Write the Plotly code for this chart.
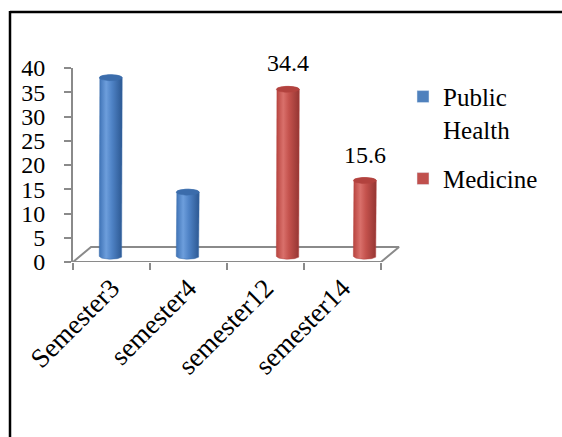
import numpy as np
import plotly.graph_objects as go

# ---- data ----
categories = ["Semester3", "semester4", "semester12", "semester14"]
series_names = ["Public Health", "Medicine"]
public_health = [36.8, 13.2, None, None]
medicine = [None, None, 34.4, 15.6]
value_labels = [None, None, "34.4", "15.6"]
y_ticks = [0, 5, 10, 15, 20, 25, 30, 35, 40]

# ---- styling / geometry ----
FONT = "Liberation Serif, Times New Roman, serif"
AXIS_GREY = "#8a8a8a"
series_styles = {
    "Public Health": dict(
        scale=[[0, "#3f73b6"], [0.3, "#6d9edc"], [0.55, "#4f83c6"], [1, "#2c5892"]],
        cap="#3b6cab", swatch="#4f81bd"),
    "Medicine": dict(
        scale=[[0, "#b8443f"], [0.3, "#d9706b"], [0.55, "#c4524d"], [1, "#943532"]],
        cap="#b2423e", swatch="#c0504d"),
}
group_offset = 0.15      # half spacing between the two series slots in a category
depth_dx, depth_dy = 0.234, 3.1   # floor depth (x in category units, y in value units)
bar_dx, bar_dy = 0.14, 1.2        # bars stand in the middle of the floor depth
rx, ry = 0.149, 0.62              # cylinder radius (x) and ellipse half-height (y)
x_lo = -0.5
x_hi = -0.5 + (403 - 73) / 77

fig = go.Figure()

# floor of the 3-D plot area
n = len(categories)
floor_x = [x_lo, x_lo + n, x_lo + n + depth_dx, x_lo + depth_dx, x_lo]
floor_y = [0, 0, depth_dy, depth_dy, 0]
fig.add_trace(go.Scatter(x=floor_x, y=floor_y, mode="lines", fill="toself",
                         fillcolor="white", line=dict(color=AXIS_GREY, width=2),
                         hoverinfo="skip", showlegend=False))


def cylinder(cx, value):
    base = bar_dy
    top = base + value
    t_front = np.linspace(np.pi, 2 * np.pi, 40)   # lower (front) half of ellipse
    t_back = np.linspace(np.pi, 0, 40)            # upper (back) half of ellipse
    body_x = ([cx - rx] + list(cx + rx * np.cos(t_back)) +
              list(cx + rx * np.cos(t_front[::-1])))
    body_y = ([base] + list(top + ry * np.sin(t_back)) +
              list(base + ry * np.sin(t_front[::-1])))
    body_x.append(body_x[0])
    body_y.append(body_y[0])
    t = np.linspace(0, 2 * np.pi, 60)
    cap_x = list(cx + rx * np.cos(t))
    cap_y = list(top + ry * np.sin(t))
    return body_x, body_y, cap_x, cap_y


for s_idx, (name, values) in enumerate(zip(series_names, [public_health, medicine])):
    style = series_styles[name]
    slot = -group_offset if s_idx == 0 else group_offset
    for i, v in enumerate(values):
        if v is None:
            continue
        cx = i + slot + bar_dx
        bx, by, kx, ky = cylinder(cx, v)
        fig.add_trace(go.Scatter(
            x=bx, y=by, mode="lines", fill="toself",
            fillgradient=dict(type="horizontal", colorscale=style["scale"]),
            line=dict(width=0.5, color=style["cap"]),
            hoverinfo="skip", showlegend=False))
        fig.add_trace(go.Scatter(
            x=kx, y=ky, mode="lines", fill="toself", fillcolor=style["cap"],
            line=dict(width=0.5, color=style["cap"]),
            hoverinfo="skip", showlegend=False))
        lbl = value_labels[i]
        if lbl is not None and s_idx == 1:
            fig.add_annotation(x=cx, y=bar_dy + v + ry, text=lbl, showarrow=False,
                               yanchor="bottom", yshift=8,
                               font=dict(family=FONT, size=24, color="black"))

# legend swatches
for name in series_names:
    label = "Public<br>Health" if name == "Public Health" else name
    fig.add_trace(go.Bar(x=[None], y=[None], name=label,
                         marker=dict(color=series_styles[name]["swatch"]),
                         legendgroup=name))

# category labels on a second x axis sharing the same range
fig.add_trace(go.Scatter(x=list(range(n)), y=[0] * n, xaxis="x2", mode="markers",
                         marker=dict(opacity=0), hoverinfo="skip", showlegend=False))

fig.update_layout(
    width=562, height=437,
    margin=dict(l=73, r=159, t=68, b=175),
    paper_bgcolor="white", plot_bgcolor="white",
    font=dict(family=FONT, size=22, color="black"),
    xaxis=dict(range=[x_lo, x_hi], showgrid=False, zeroline=False, showline=False,
               tickvals=[x_lo + k for k in range(n + 1)], showticklabels=False,
               ticks="outside", ticklen=7, tickwidth=2, tickcolor=AXIS_GREY),
    xaxis2=dict(range=[x_lo, x_hi], overlaying="x", anchor="y", side="bottom",
                showgrid=False, zeroline=False, showline=False,
                tickvals=list(range(n)), ticktext=categories, tickangle=-45,
                ticks="", ticklabelstandoff=4,
                tickfont=dict(family=FONT, size=27, color="black")),
    yaxis=dict(range=[0, 40], tickvals=y_ticks, showgrid=False, zeroline=False,
               showline=True, linecolor=AXIS_GREY, linewidth=2,
               ticks="outside", ticklen=7, tickwidth=2, tickcolor=AXIS_GREY,
               ticklabelstandoff=14,
               tickfont=dict(family=FONT, size=24, color="black")),
    legend=dict(x=1.0, y=0.97, xanchor="left", yanchor="top",
                font=dict(family=FONT, size=25, color="black"),
                valign="top", traceorder="grouped", tracegroupgap=14,
                itemwidth=30, bgcolor="rgba(0,0,0,0)"),
    showlegend=True,
)

# outer frame (top and left edges)
fig.add_shape(type="line", xref="paper", yref="paper",
              x0=(10 - 73) / 330, x1=(600 - 73) / 330,
              y0=(262 - 12) / 194, y1=(262 - 12) / 194,
              line=dict(color="black", width=2.5))
fig.add_shape(type="line", xref="paper", yref="paper",
              x0=(10 - 73) / 330, x1=(10 - 73) / 330,
              y0=(262 - 11) / 194, y1=(262 - 460) / 194,
              line=dict(color="black", width=2.5))

fig.write_html("out.html")
